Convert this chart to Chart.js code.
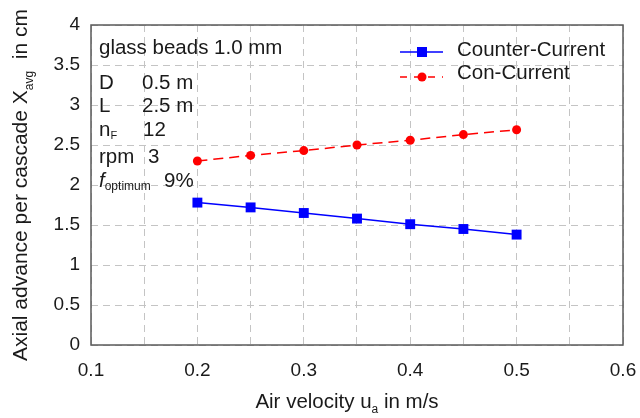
<!DOCTYPE html>
<html>
<head>
<meta charset="utf-8">
<script src="https://cdn.jsdelivr.net/npm/chart.js@4/dist/chart.umd.min.js"></script>
<style>
  html, body { margin: 0; padding: 0; background: #ffffff; }
  #wrap { width: 640px; height: 418px; }
</style>
</head>
<body>
<div id="wrap"><canvas id="c" width="640" height="418"></canvas></div>
<script>
// ---- data ----
const airVelocity = [0.2, 0.25, 0.3, 0.35, 0.4, 0.45, 0.5];
const counterCurrent = [1.78, 1.72, 1.65, 1.58, 1.51, 1.45, 1.38];
const conCurrent = [2.30, 2.37, 2.43, 2.50, 2.56, 2.63, 2.69];
const seriesNames = ['Counter-Current', 'Con-Current'];
const xTicks = [0.1, 0.2, 0.3, 0.4, 0.5, 0.6];
const yTicks = [0, 0.5, 1, 1.5, 2, 2.5, 3, 3.5, 4];

const FONT = '"Liberation Sans", Arial, sans-serif';
const TXT = '#1a1a1a';

function toPoints(xs, ys) { return xs.map((x, i) => ({ x: x, y: ys[i] })); }

function richWidth(ctx, parts) {
  let w = 0;
  parts.forEach(p => { ctx.font = p.font; w += ctx.measureText(p.t).width; });
  return w;
}
function drawRich(ctx, parts, x, y, align) {
  let cx = x;
  if (align === 'center') cx = x - richWidth(ctx, parts) / 2;
  ctx.textAlign = 'left';
  ctx.textBaseline = 'alphabetic';
  parts.forEach(p => {
    ctx.font = p.font;
    ctx.fillText(p.t, cx, y + (p.dy || 0));
    cx += ctx.measureText(p.t).width;
  });
}

const main = '20.5px ' + FONT;
const sub = '12px ' + FONT;

const overlay = {
  id: 'overlay',
  beforeDatasetsDraw(chart) {
    const { ctx, chartArea: a } = chart;
    ctx.save();
    ctx.strokeStyle = '#5a5a5a';
    ctx.lineWidth = 1.5;
    ctx.strokeRect(a.left, a.top, a.right - a.left, a.bottom - a.top);
    ctx.restore();
  },
  afterDraw(chart) {
    const { ctx } = chart;
    ctx.save();
    ctx.fillStyle = TXT;

    // annotations
    drawRich(ctx, [{ t: 'glass beads 1.0 mm', font: main }], 99, 54);
    drawRich(ctx, [{ t: 'D', font: main }], 99, 89);
    drawRich(ctx, [{ t: '0.5 m', font: main }], 142, 89);
    drawRich(ctx, [{ t: 'L', font: main }], 99, 112);
    drawRich(ctx, [{ t: '2.5 m', font: main }], 142, 112);
    drawRich(ctx, [{ t: 'n', font: main }, { t: 'F', font: '11px ' + FONT, dy: 3 }], 99, 136);
    drawRich(ctx, [{ t: '12', font: main }], 143, 136);
    drawRich(ctx, [{ t: 'rpm', font: main }], 99, 163);
    drawRich(ctx, [{ t: '3', font: main }], 148, 163);
    drawRich(ctx, [{ t: 'f', font: 'italic 20.5px ' + FONT }, { t: 'optimum', font: sub, dy: 3 }], 99, 187);
    drawRich(ctx, [{ t: '9%', font: main }], 164, 187);

    // legend
    const lx0 = 400, lx1 = 443, mx = 422;
    ctx.strokeStyle = '#0000ff';
    ctx.lineWidth = 1.5;
    ctx.beginPath(); ctx.moveTo(lx0, 52); ctx.lineTo(lx1, 52); ctx.stroke();
    ctx.fillStyle = '#0000ff';
    ctx.fillRect(mx - 5, 52 - 5, 10, 10);
    ctx.strokeStyle = '#ff0000';
    ctx.setLineDash([7, 7]);
    ctx.beginPath(); ctx.moveTo(lx0, 77); ctx.lineTo(lx1, 77); ctx.stroke();
    ctx.setLineDash([]);
    ctx.fillStyle = '#ff0000';
    ctx.beginPath(); ctx.arc(mx, 77, 4.5, 0, Math.PI * 2); ctx.fill();
    ctx.fillStyle = TXT;
    drawRich(ctx, [{ t: seriesNames[0], font: main }], 457, 56);
    drawRich(ctx, [{ t: seriesNames[1], font: main }], 457, 79);

    // x axis title
    drawRich(ctx, [
      { t: 'Air velocity u', font: main },
      { t: 'a', font: sub, dy: 5 },
      { t: ' in m/s', font: main }
    ], 347, 408, 'center');

    // y axis title
    ctx.translate(27, 185);
    ctx.rotate(-Math.PI / 2);
    drawRich(ctx, [
      { t: 'Axial advance per cascade X', font: '21px ' + FONT },
      { t: 'avg', font: sub, dy: 6 },
      { t: '  in cm', font: '21px ' + FONT }
    ], 0, 0, 'center');
    ctx.restore();
  }
};

new Chart(document.getElementById('c'), {
  type: 'line',
  data: {
    datasets: [
      {
        label: seriesNames[0],
        data: toPoints(airVelocity, counterCurrent),
        borderColor: '#0000ff',
        backgroundColor: '#0000ff',
        borderWidth: 1.5,
        pointStyle: 'rect',
        pointRadius: 7,
        pointBorderWidth: 0,
        pointHoverRadius: 7,
        tension: 0
      },
      {
        label: seriesNames[1],
        data: toPoints(airVelocity, conCurrent),
        borderColor: '#ff0000',
        backgroundColor: '#ff0000',
        borderWidth: 1.5,
        borderDash: [10, 6],
        pointStyle: 'circle',
        pointRadius: 4.5,
        pointBorderWidth: 0,
        pointHoverRadius: 4.5,
        tension: 0
      }
    ]
  },
  options: {
    responsive: false,
    animation: false,
    devicePixelRatio: 1,
    layout: { padding: { left: 0, right: 17, top: 25, bottom: 0 } },
    plugins: { legend: { display: false }, tooltip: { enabled: false } },
    scales: {
      x: {
        type: 'linear',
        min: xTicks[0],
        max: xTicks[xTicks.length - 1],
        afterBuildTicks(scale) {
          const t = [];
          for (let i = 0; i < xTicks.length; i++) {
            t.push({ value: xTicks[i] });
            if (i < xTicks.length - 1) t.push({ value: (xTicks[i] + xTicks[i + 1]) / 2, minor: true });
          }
          scale.ticks = t;
        },
        afterFit(scale) {
          scale.height = 73;
          scale.paddingRight = 0;
          scale.paddingLeft = 0;
        },
        grid: {
          color: '#c4c4c4',
          lineWidth: 1,
          drawTicks: false
        },
        border: { display: false, dash: [7, 5] },
        ticks: {
          autoSkip: false,
          maxRotation: 0,
          padding: 14,
          color: TXT,
          font: { family: FONT, size: 19 },
          callback(v) {
            const k = xTicks.findIndex(t => Math.abs(t - v) < 1e-9);
            return k >= 0 ? xTicks[k].toFixed(1) : '';
          }
        }
      },
      y: {
        type: 'linear',
        min: yTicks[0],
        max: yTicks[yTicks.length - 1],
        afterBuildTicks(scale) { scale.ticks = yTicks.map(v => ({ value: v })); },
        afterFit(scale) {
          scale.width = 91;
          scale.paddingTop = 0;
          scale.paddingBottom = 0;
        },
        grid: {
          color: '#c4c4c4',
          lineWidth: 1,
          drawTicks: false
        },
        border: { display: false, dash: [7, 5] },
        ticks: {
          padding: 11,
          color: TXT,
          font: { family: FONT, size: 19 },
          callback(v) { return String(+v.toFixed(1)); }
        }
      }
    }
  },
  plugins: [overlay]
});
</script>
</body>
</html>
